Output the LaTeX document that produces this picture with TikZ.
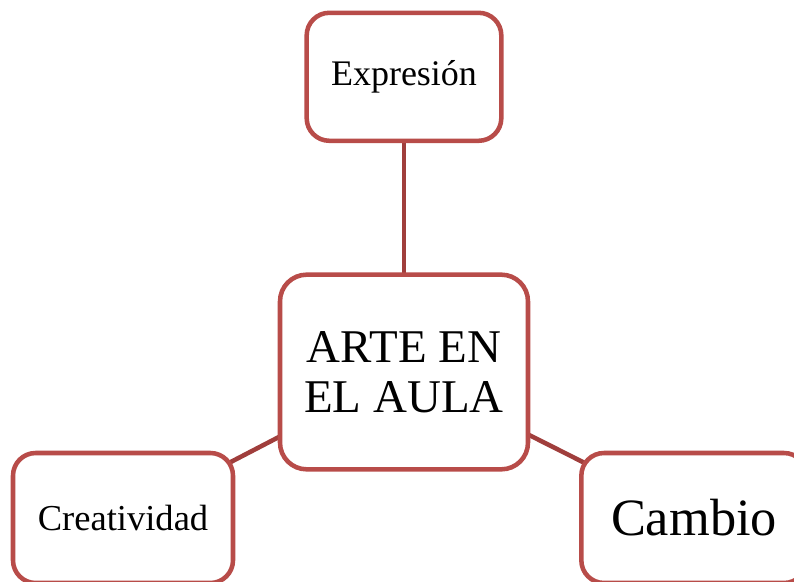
\documentclass[tikz,border=0pt]{standalone}
\usepackage{fontspec}
\setmainfont{Liberation Serif}
\usetikzlibrary{positioning,backgrounds}

\definecolor{ideared}{RGB}{184,76,73}
\definecolor{linkred}{RGB}{160,62,60}

\tikzset{
  idea/.style={draw=ideared, line width=3.4pt, fill=white, rounded corners=17pt,
    align=center, inner sep=0pt},
  link/.style={draw=linkred, line width=3.4pt}
}

\begin{document}
\begin{tikzpicture}[x=0.75pt, y=-0.75pt]
    \useasboundingbox (0,0) rectangle (794,582);

    \node[idea, rounded corners=20pt, minimum width=186pt, minimum height=146pt,
      font=\fontsize{35.2}{37.5}\selectfont] (aula) at (404,372) {ARTE EN\\EL AULA};
    \node[idea, minimum width=146pt, minimum height=96pt, above=97pt of aula,
      font=\fontsize{27}{30}\selectfont] (expr) {Expresión};
    \node[idea, minimum width=165pt, minimum height=97.5pt,
      font=\fontsize{27.4}{30}\selectfont] (crea) at (123,518) {Creatividad};
    \node[idea, minimum width=169pt, minimum height=97.5pt,
      font=\fontsize{39.3}{42}\selectfont] (camb) at (694,518) {Cambio};

    \begin{scope}[on background layer]
      \draw[link] (aula.center) -- (expr.center);
      \draw[link] (aula.center) -- (crea.center);
      \draw[link] (aula.center) -- (camb.center);
    \end{scope}
\end{tikzpicture}
\end{document}
